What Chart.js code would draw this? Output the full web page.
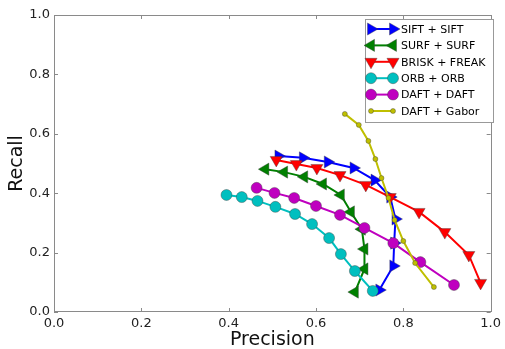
<!DOCTYPE html>
<html>
<head>
<meta charset="utf-8">
<script src="https://cdn.jsdelivr.net/npm/chart.js@4.4.0/dist/chart.umd.min.js"></script>
<style>
html, body { margin: 0; padding: 0; background: #fff; }
#wrap { width: 505px; height: 349px; position: relative; }
</style>
</head>
<body>
<div id="wrap"><canvas id="myChart"></canvas></div>
<script>
var tickLabels = ['0.0', '0.2', '0.4', '0.6', '0.8', '1.0'];
var tickValues = [0, 0.2, 0.4, 0.6, 0.8, 1.0];

var seriesNames = ['SIFT + SIFT', 'SURF + SURF', 'BRISK + FREAK', 'ORB + ORB', 'DAFT + DAFT', 'DAFT + Gabor'];

var siftPrecision = [0.514, 0.570, 0.627, 0.686, 0.734, 0.770, 0.782, 0.779, 0.777, 0.745];
var siftRecall    = [0.525, 0.519, 0.505, 0.485, 0.444, 0.387, 0.313, 0.232, 0.155, 0.074];

var surfPrecision = [0.484, 0.527, 0.573, 0.616, 0.657, 0.680, 0.705, 0.711, 0.711, 0.689];
var surfRecall    = [0.481, 0.471, 0.455, 0.431, 0.394, 0.337, 0.279, 0.212, 0.145, 0.067];

var briskPrecision = [0.509, 0.555, 0.602, 0.655, 0.714, 0.770, 0.836, 0.895, 0.950, 0.977];
var briskRecall    = [0.512, 0.498, 0.485, 0.461, 0.428, 0.387, 0.337, 0.269, 0.192, 0.098];

var orbPrecision = [0.395, 0.430, 0.466, 0.507, 0.552, 0.591, 0.630, 0.657, 0.689, 0.730];
var orbRecall    = [0.394, 0.387, 0.374, 0.354, 0.330, 0.296, 0.249, 0.195, 0.138, 0.071];

var daftPrecision = [0.464, 0.505, 0.550, 0.600, 0.655, 0.711, 0.777, 0.839, 0.916];
var daftRecall    = [0.418, 0.401, 0.384, 0.357, 0.327, 0.283, 0.232, 0.168, 0.091];

var gaborPrecision = [0.666, 0.698, 0.720, 0.736, 0.750, 0.766, 0.780, 0.800, 0.827, 0.870];
var gaborRecall    = [0.667, 0.630, 0.576, 0.515, 0.451, 0.384, 0.310, 0.239, 0.165, 0.084];

function toPoints(px, rc) {
    return px.map(function (p, i) { return { x: p, y: rc[i] }; });
}

function makeSet(idx, px, rc, color, style, radius, rotation) {
    return {
        label: seriesNames[idx],
        data: toPoints(px, rc),
        borderColor: color,
        backgroundColor: color,
        borderWidth: 2,
        pointStyle: style,
        pointRadius: radius,
        pointHoverRadius: radius,
        pointRotation: rotation,
        pointBackgroundColor: color,
        pointBorderColor: 'rgba(60,60,60,0.8)',
        pointBorderWidth: 0.5,
        showLine: true,
        fill: false,
        tension: 0,
        order: 5 - idx // later series drawn on top, like matplotlib
    };
}

var datasets = [
    makeSet(0, siftPrecision, siftRecall, '#0000ff', 'triangle', 7, 90),
    makeSet(1, surfPrecision, surfRecall, '#008000', 'triangle', 7, 270),
    makeSet(2, briskPrecision, briskRecall, '#ff0000', 'triangle', 7, 180),
    makeSet(3, orbPrecision, orbRecall, '#00bfbf', 'circle', 5.5, 0),
    makeSet(4, daftPrecision, daftRecall, '#bf00bf', 'circle', 5.5, 0),
    makeSet(5, gaborPrecision, gaborRecall, '#bfbf00', 'circle', 2.5, 0)
];

// box round the plot with inward ticks on all four sides
var frameTicks = {
    id: 'frameTicks',
    afterDatasetsDraw: function (chart) {
        var ctx = chart.ctx, a = chart.chartArea;
        var xs = chart.scales.x, ys = chart.scales.y;
        ctx.save();
        ctx.strokeStyle = '#8a8a8a';
        ctx.lineWidth = 1;
        ctx.strokeRect(Math.round(a.left) + 0.5, Math.round(a.top) + 0.5,
            Math.round(a.right - a.left), Math.round(a.bottom - a.top) - 1);
        ctx.beginPath();
        tickValues.forEach(function (v) {
            var px = Math.round(xs.getPixelForValue(v)) + 0.5;
            ctx.moveTo(px, a.bottom); ctx.lineTo(px, a.bottom - 4);
            ctx.moveTo(px, a.top); ctx.lineTo(px, a.top + 4);
            var py = Math.round(ys.getPixelForValue(v)) + 0.5;
            ctx.moveTo(a.left, py); ctx.lineTo(a.left + 4, py);
            ctx.moveTo(a.right, py); ctx.lineTo(a.right - 4, py);
        });
        ctx.stroke();
        ctx.restore();
    }
};

// matplotlib-like legend: short line with a marker at each end
var boxLegend = {
    id: 'boxLegend',
    afterDraw: function (chart) {
        var ctx = chart.ctx;
        var left = 365, top = 19, w = 128, h = 103, rowH = 16.4;
        ctx.save();
        ctx.fillStyle = '#ffffff';
        ctx.fillRect(left, top, w, h);
        ctx.strokeStyle = '#999999';
        ctx.lineWidth = 1;
        ctx.strokeRect(left + 0.5, top + 0.5, w, h);
        ctx.font = '11px "DejaVu Sans"';
        ctx.textBaseline = 'middle';
        chart.data.datasets.forEach(function (ds, i) {
            var y = top + 10 + i * rowH;
            var x1 = left + 6, x2 = left + 28;
            ctx.strokeStyle = ds.borderColor;
            ctx.lineWidth = 2;
            ctx.beginPath();
            ctx.moveTo(x1, y); ctx.lineTo(x2, y);
            ctx.stroke();
            [x1, x2].forEach(function (mx) {
                ctx.fillStyle = ds.pointBackgroundColor;
                ctx.strokeStyle = ds.pointBorderColor;
                ctx.lineWidth = ds.pointBorderWidth;
                Chart.helpers.drawPoint(ctx, {
                    pointStyle: ds.pointStyle,
                    radius: ds.pointRadius,
                    rotation: ds.pointRotation,
                    borderWidth: ds.pointBorderWidth
                }, mx, y);
            });
            ctx.fillStyle = '#000';
            ctx.fillText(ds.label, left + 36, y + 1);
        });
        ctx.restore();
    }
};

var ctx = document.getElementById('myChart').getContext('2d');
var chart = new Chart(ctx, {
    type: 'line',
    data: { datasets: datasets },
    options: {
        responsive: true,
        maintainAspectRatio: false,
        animation: false,
        events: [],
        layout: { padding: { top: 15, right: 11, left: 0, bottom: 0 } },
        scales: {
            x: {
                type: 'linear',
                min: 0,
                max: 1,
                afterFit: function (scale) { scale.height = 37; },
                afterBuildTicks: function (scale) {
                    scale.ticks = tickValues.map(function (v) { return { value: v }; });
                },
                grid: { display: false, drawTicks: false },
                border: { display: false },
                ticks: {
                    padding: 4,
                    color: '#222',
                    font: { family: 'DejaVu Sans', size: 13 },
                    maxRotation: 0,
                    callback: function (value, index) { return tickLabels[index]; }
                },
                title: {
                    display: true,
                    text: 'Precision',
                    color: '#111',
                    padding: { top: 0, bottom: -1 },
                    font: { family: 'DejaVu Sans', size: 19, lineHeight: 1 }
                }
            },
            y: {
                type: 'linear',
                min: 0,
                max: 1,
                afterFit: function (scale) { scale.width = 54; },
                afterBuildTicks: function (scale) {
                    scale.ticks = tickValues.map(function (v) { return { value: v }; });
                },
                grid: { display: false, drawTicks: false },
                border: { display: false },
                ticks: {
                    padding: 4,
                    color: '#222',
                    font: { family: 'DejaVu Sans', size: 13 },
                    callback: function (value, index) { return tickLabels[index]; }
                },
                title: {
                    display: true,
                    text: 'Recall',
                    color: '#111',
                    padding: { top: 8, bottom: 0 },
                    font: { family: 'DejaVu Sans', size: 19, lineHeight: 1 }
                }
            }
        },
        plugins: {
            legend: { display: false },
            tooltip: { enabled: false }
        }
    },
    plugins: [frameTicks, boxLegend]
});
</script>
</body>
</html>
